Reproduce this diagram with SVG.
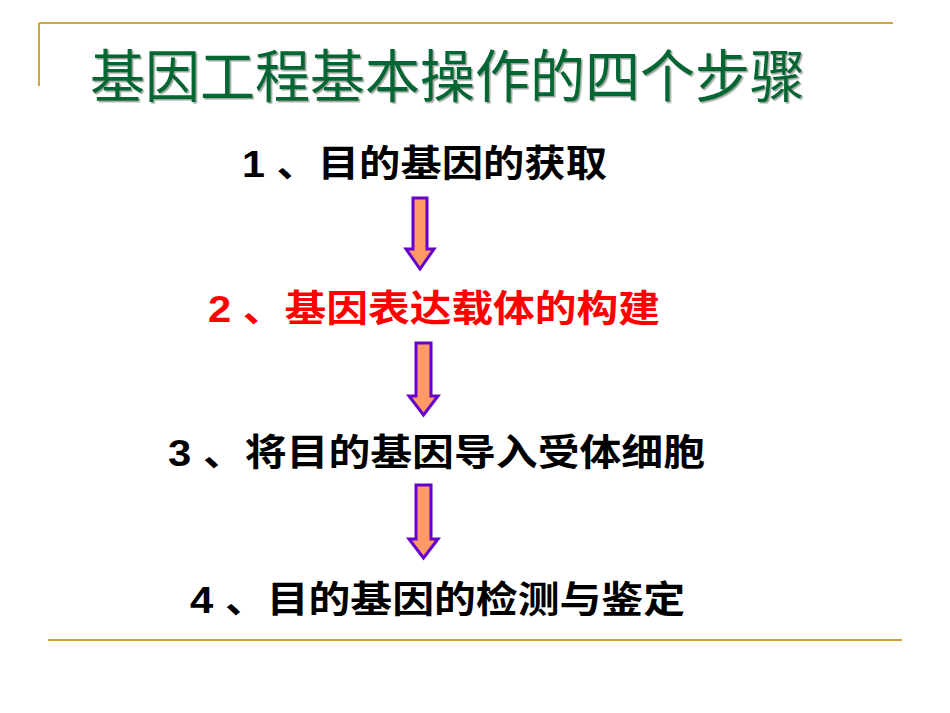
<svg xmlns="http://www.w3.org/2000/svg" width="950" height="713" viewBox="0 0 950 713">
<style>
.rule{stroke:#D0A631;stroke-width:2;fill:none}
.step{font-family:"Liberation Sans","Noto Sans CJK SC",sans-serif;font-weight:bold;font-size:37px}
.blk{fill:#000}
.red{fill:#FF0000}
.title{font-family:"Noto Sans CJK SC",sans-serif;font-size:57px;fill:#006633}
.arrow{fill:#FF9966;stroke:#6600CC;stroke-width:3;stroke-linejoin:miter}
</style>
<defs>
<filter id="sh" x="-5%" y="-20%" width="110%" height="140%">
<feDropShadow dx="1.5" dy="1.5" stdDeviation="0.5" flood-color="#7F8F86" flood-opacity="0.8"/>
</filter>
</defs>
<rect width="950" height="713" fill="#fff"/>
<g id="frame">
<line class="rule" x1="39" y1="23" x2="893" y2="23"/>
<line class="rule" x1="39" y1="23" x2="39" y2="86"/>
<line class="rule" x1="48" y1="640" x2="902" y2="640"/>
</g>
<g id="title">
<text class="title" x="90" y="97" textLength="715" lengthAdjust="spacingAndGlyphs" filter="url(#sh)">基因工程基本操作的四个步骤</text>
</g>
<g id="step1"><text class="step blk" x="242" y="177" textLength="365" lengthAdjust="spacingAndGlyphs">1 、目的基因的获取</text></g>
<g id="step2"><text class="step red" x="208" y="322" textLength="452" lengthAdjust="spacingAndGlyphs">2 、基因表达载体的构建</text></g>
<g id="step3"><text class="step blk" x="168" y="466" textLength="537" lengthAdjust="spacingAndGlyphs">3 、将目的基因导入受体细胞</text></g>
<g id="step4"><text class="step blk" x="190" y="613" textLength="495" lengthAdjust="spacingAndGlyphs">4 、目的基因的检测与鉴定</text></g>
<g id="connectors">
<path class="arrow" d="M413 198 H427 V249 H434 L420 269 L406 249 H413 Z"/>
<path class="arrow" d="M416 343 H431 V396 H438 L423.5 415 L409 396 H416 Z"/>
<path class="arrow" d="M416 485 H431 V539 H438 L423.5 558 L409 539 H416 Z"/>
</g>
</svg>
